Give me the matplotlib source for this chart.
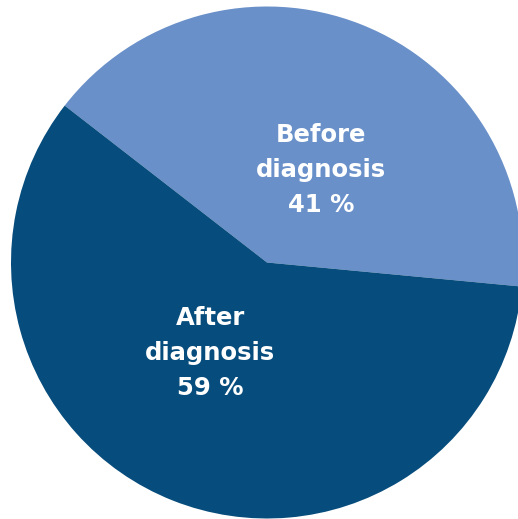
import matplotlib
matplotlib.use("Agg")
import matplotlib.pyplot as plt

categories = ["Before\ndiagnosis", "After\ndiagnosis"]
values = [41, 59]
colors = ["#6990c9", "#064c7c"]

W, H = 518, 519
fig = plt.figure(figsize=(W / 100, H / 100), dpi=100)
ax = fig.add_axes([0, 0, 1, 1])
ax.set_xlim(0, W)
ax.set_ylim(0, H)
ax.set_aspect("equal")
ax.axis("off")

cx, cy, r = 267, H - 262.5, 256
ax.pie(values, colors=colors, startangle=-5.4, counterclock=True,
       center=(cx, cy), radius=r, frame=False,
       wedgeprops=dict(linewidth=0, antialiased=True))

label_pos = [(321, 170), (210, 353)]
for cat, v, (x, y) in zip(categories, values, label_pos):
    ax.text(x, H - y, f"{cat}\n{v} %", color="white", fontsize=17.5,
            fontweight="bold", family="DejaVu Sans", ha="center", va="center",
            linespacing=1.6)

ax.set_xlim(0, W)
ax.set_ylim(0, H)
fig.savefig("out.png", dpi=100, facecolor="white")
